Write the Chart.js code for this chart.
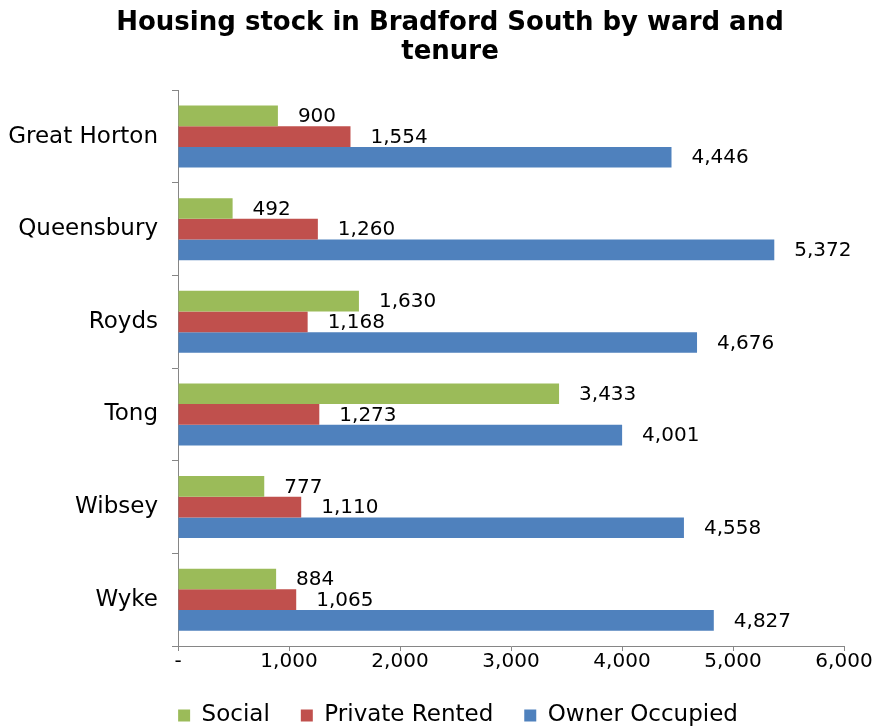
<!DOCTYPE html>
<html>
<head>
<meta charset="utf-8">
<title>Housing stock in Bradford South</title>
<script src="https://cdn.jsdelivr.net/npm/chart.js@4/dist/chart.umd.min.js"></script>
<style>
  html, body { margin: 0; padding: 0; background: #fff; }
  #wrap { width: 877px; height: 727px; position: relative; }
</style>
</head>
<body>
<div id="wrap"><canvas id="chart"></canvas></div>
<script>
"use strict";

/* ─── Data ─────────────────────────────────────────────────── */

const WARDS = ["Great Horton", "Queensbury", "Royds", "Tong", "Wibsey", "Wyke"];
const SOCIAL = [900, 492, 1630, 3433, 777, 884];
const PRIVATE_RENTED = [1554, 1260, 1168, 1273, 1110, 1065];
const OWNER_OCCUPIED = [4446, 5372, 4676, 4001, 4558, 4827];

const X_MIN = 0;
const X_MAX = 6000;
const X_STEP = 1000;

/* ─── Styling ──────────────────────────────────────────────── */

const FONT = "'DejaVu Sans', Verdana, sans-serif";
const AXIS_GREY = "#868686";
const PAD_LEFT = 56;
const PAD_RIGHT = 33;

/*
 * Formats a number with thousands separators, "-" for zero.
 * @param {number} v
 * @returns {string}
 */
function fmt(v) {
  if (v === 0) return "-";
  return Number(v).toLocaleString("en-GB");
}

/* Draws the value next to the end of every bar */
const barLabels = {
  id: "barLabels",
  afterLayout: function (chart) {
    /* let the long ward names spill into the left padding unclipped */
    chart.scales.y.left = 0;
    /* legend sits a little right of centre in the original */
    chart.legend.left += 8;
    chart.legend.right += 8;
  },
  afterDatasetsDraw: function (chart) {
    const ctx = chart.ctx;
    ctx.save();
    ctx.font = "20px " + FONT;
    ctx.fillStyle = "#000";
    ctx.textAlign = "left";
    ctx.textBaseline = "middle";
    chart.data.datasets.forEach(function (ds, i) {
      const meta = chart.getDatasetMeta(i);
      meta.data.forEach(function (bar, j) {
        ctx.fillText(fmt(ds.data[j]), bar.x + 20, bar.y + 1);
      });
    });
    ctx.restore();
  },
};

/* ─── Chart ────────────────────────────────────────────────── */

new Chart(document.getElementById("chart"), {
  type: "bar",
  data: {
    labels: WARDS,
    datasets: [
      { label: "Social", data: SOCIAL, backgroundColor: "#9BBB59" },
      { label: "Private Rented", data: PRIVATE_RENTED, backgroundColor: "#C0504D" },
      { label: "Owner Occupied", data: OWNER_OCCUPIED, backgroundColor: "#4F81BD" },
    ],
  },
  options: {
    indexAxis: "y",
    responsive: true,
    maintainAspectRatio: false,
    animation: false,
    datasets: {
      bar: { categoryPercentage: 0.67, barPercentage: 1.0 },
    },
    layout: { padding: { left: PAD_LEFT, right: PAD_RIGHT, top: 0, bottom: -10 } },
    scales: {
      x: {
        min: X_MIN,
        max: X_MAX,
        ticks: {
          stepSize: X_STEP,
          color: "#000",
          padding: -1,
          font: { family: FONT, size: 20 },
          callback: function (v) { return fmt(v); },
        },
        grid: { drawOnChartArea: false, drawTicks: true, tickLength: 5, color: AXIS_GREY },
        border: { color: AXIS_GREY },
      },
      y: {
        afterFit: function (axis) { axis.width = 178 - PAD_LEFT; },
        ticks: {
          color: "#000",
          padding: 14,
          font: { family: FONT, size: 23 },
        },
        grid: { drawOnChartArea: false, drawTicks: true, tickLength: 6, color: AXIS_GREY, offset: true },
        border: { color: AXIS_GREY },
      },
    },
    plugins: {
      title: {
        display: true,
        text: ["Housing stock in Bradford South by ward and", "tenure"],
        color: "#000",
        font: { family: FONT, size: 26, weight: "bold", lineHeight: 1.12 },
        padding: { top: 9, bottom: 23 },
      },
      legend: {
        position: "bottom",
        labels: {
          color: "#000",
          boxWidth: 12,
          boxHeight: 12,
          padding: 31,
          font: { family: FONT, size: 23 },
        },
      },
      tooltip: { enabled: false },
    },
  },
  plugins: [barLabels],
});
</script>
</body>
</html>
